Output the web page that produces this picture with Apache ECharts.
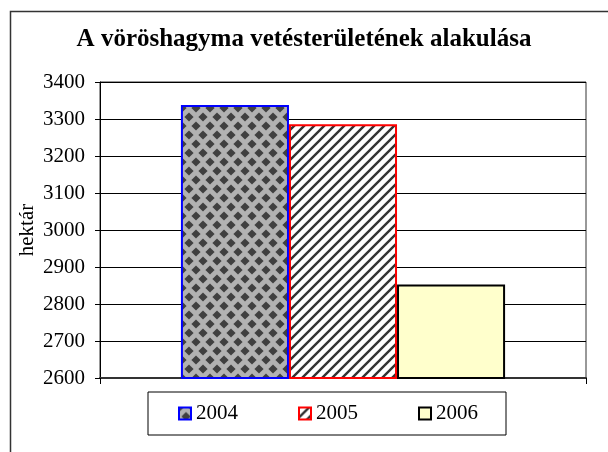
<!DOCTYPE html>
<html>
<head>
<meta charset="utf-8">
<script src="https://cdn.jsdelivr.net/npm/echarts@6/dist/echarts.min.js"></script>
<style>
  html, body { margin: 0; padding: 0; background: #fff; }
  #chart { width: 608px; height: 452px; }
</style>
</head>
<body>
<div id="chart"></div>
<script>
// adatok
var categories = [''];
var years = ['2004', '2005', '2006'];
var area2004 = [3338];
var area2005 = [3286];
var area2006 = [2853];
var yTicks = [2600, 2700, 2800, 2900, 3000, 3100, 3200, 3300, 3400];

var serif = '"Liberation Serif", "DejaVu Serif", serif';

// szürke alap, sötét rombuszok
function diamondPattern() {
    var w = 14, h = 18, r = 4.6;
    var c = document.createElement('canvas');
    c.width = w; c.height = h;
    var g = c.getContext('2d');
    g.fillStyle = '#b2b2b2';
    g.fillRect(0, 0, w, h);
    g.fillStyle = '#404040';
    [[0, 0], [w, 0], [0, h], [w, h], [w / 2, h / 2]].forEach(function (p) {
        g.beginPath();
        g.moveTo(p[0], p[1] - r);
        g.lineTo(p[0] + r, p[1]);
        g.lineTo(p[0], p[1] + r);
        g.lineTo(p[0] - r, p[1]);
        g.closePath();
        g.fill();
    });
    return c;
}

// fehér alap, ferde csíkok
function stripePattern() {
    var s = 10;
    var c = document.createElement('canvas');
    c.width = s; c.height = s;
    var g = c.getContext('2d');
    g.fillStyle = '#ffffff';
    g.fillRect(0, 0, s, s);
    g.strokeStyle = '#333';
    g.lineWidth = 2.4;
    g.beginPath();
    g.moveTo(-2, s + 2); g.lineTo(s + 2, -2);
    g.moveTo(-2, 2); g.lineTo(2, -2);
    g.moveTo(s - 2, s + 2); g.lineTo(s + 2, s - 2);
    g.stroke();
    return c;
}

var chart = echarts.init(document.getElementById('chart'));

var option = {
    backgroundColor: '#fff',
    animation: false,
    title: {
        text: 'A vöröshagyma vetésterületének alakulása',
        left: 'center',
        top: 22,
        textStyle: {
            fontFamily: serif,
            fontSize: 25,
            fontWeight: 'bold',
            color: '#000'
        }
    },
    graphic: [{
        type: 'rect',
        left: 8,
        top: 9,
        shape: { width: 640, height: 480 },
        style: { fill: 'none', stroke: '#333', lineWidth: 1.5 },
        silent: true
    }],
    legend: {
        data: years,
        left: 148,
        top: 392,
        padding: [11, 28, 11, 30],
        borderColor: '#000',
        borderWidth: 1,
        itemWidth: 12,
        itemHeight: 12,
        itemGap: 60,
        icon: 'rect',
        textStyle: {
            fontFamily: serif,
            fontSize: 21,
            color: '#000'
        }
    },
    grid: {
        left: 100,
        right: 22,
        top: 82,
        bottom: 74,
        show: true,
        borderColor: '#333',
        borderWidth: 1
    },
    xAxis: {
        type: 'category',
        data: categories,
        axisLine: { lineStyle: { color: '#333', width: 2 } },
        axisTick: { show: true, length: 6, lineStyle: { color: '#000' } },
        axisLabel: { show: false }
    },
    yAxis: {
        type: 'value',
        min: yTicks[0],
        max: yTicks[yTicks.length - 1],
        interval: 100,
        name: 'hektár',
        nameLocation: 'middle',
        nameRotate: 90,
        nameGap: 62,
        nameMoveOverlap: false,
        nameTextStyle: { fontFamily: serif, fontSize: 21, color: '#000' },
        axisLine: { show: true, lineStyle: { color: '#000' } },
        axisTick: { show: true, length: 5, lineStyle: { color: '#000' } },
        axisLabel: {
            margin: 15,
            fontFamily: serif,
            fontSize: 21,
            color: '#000',
            formatter: function (v) { return String(v); }
        },
        splitLine: { lineStyle: { color: '#000', width: 1 } }
    },
    series: [{
        name: years[0],
        type: 'bar',
        data: area2004,
        barGap: '0%',
        barCategoryGap: '33.3%',
        itemStyle: {
            color: { image: diamondPattern(), repeat: 'repeat' },
            borderColor: '#0000ff',
            borderWidth: 2
        }
    }, {
        name: years[1],
        type: 'bar',
        data: area2005,
        itemStyle: {
            color: { image: stripePattern(), repeat: 'repeat' },
            borderColor: '#ff0000',
            borderWidth: 2
        }
    }, {
        name: years[2],
        type: 'bar',
        data: area2006,
        itemStyle: {
            color: '#ffffcc',
            borderColor: '#000',
            borderWidth: 2
        }
    }]
};

chart.setOption(option);
</script>
</body>
</html>
